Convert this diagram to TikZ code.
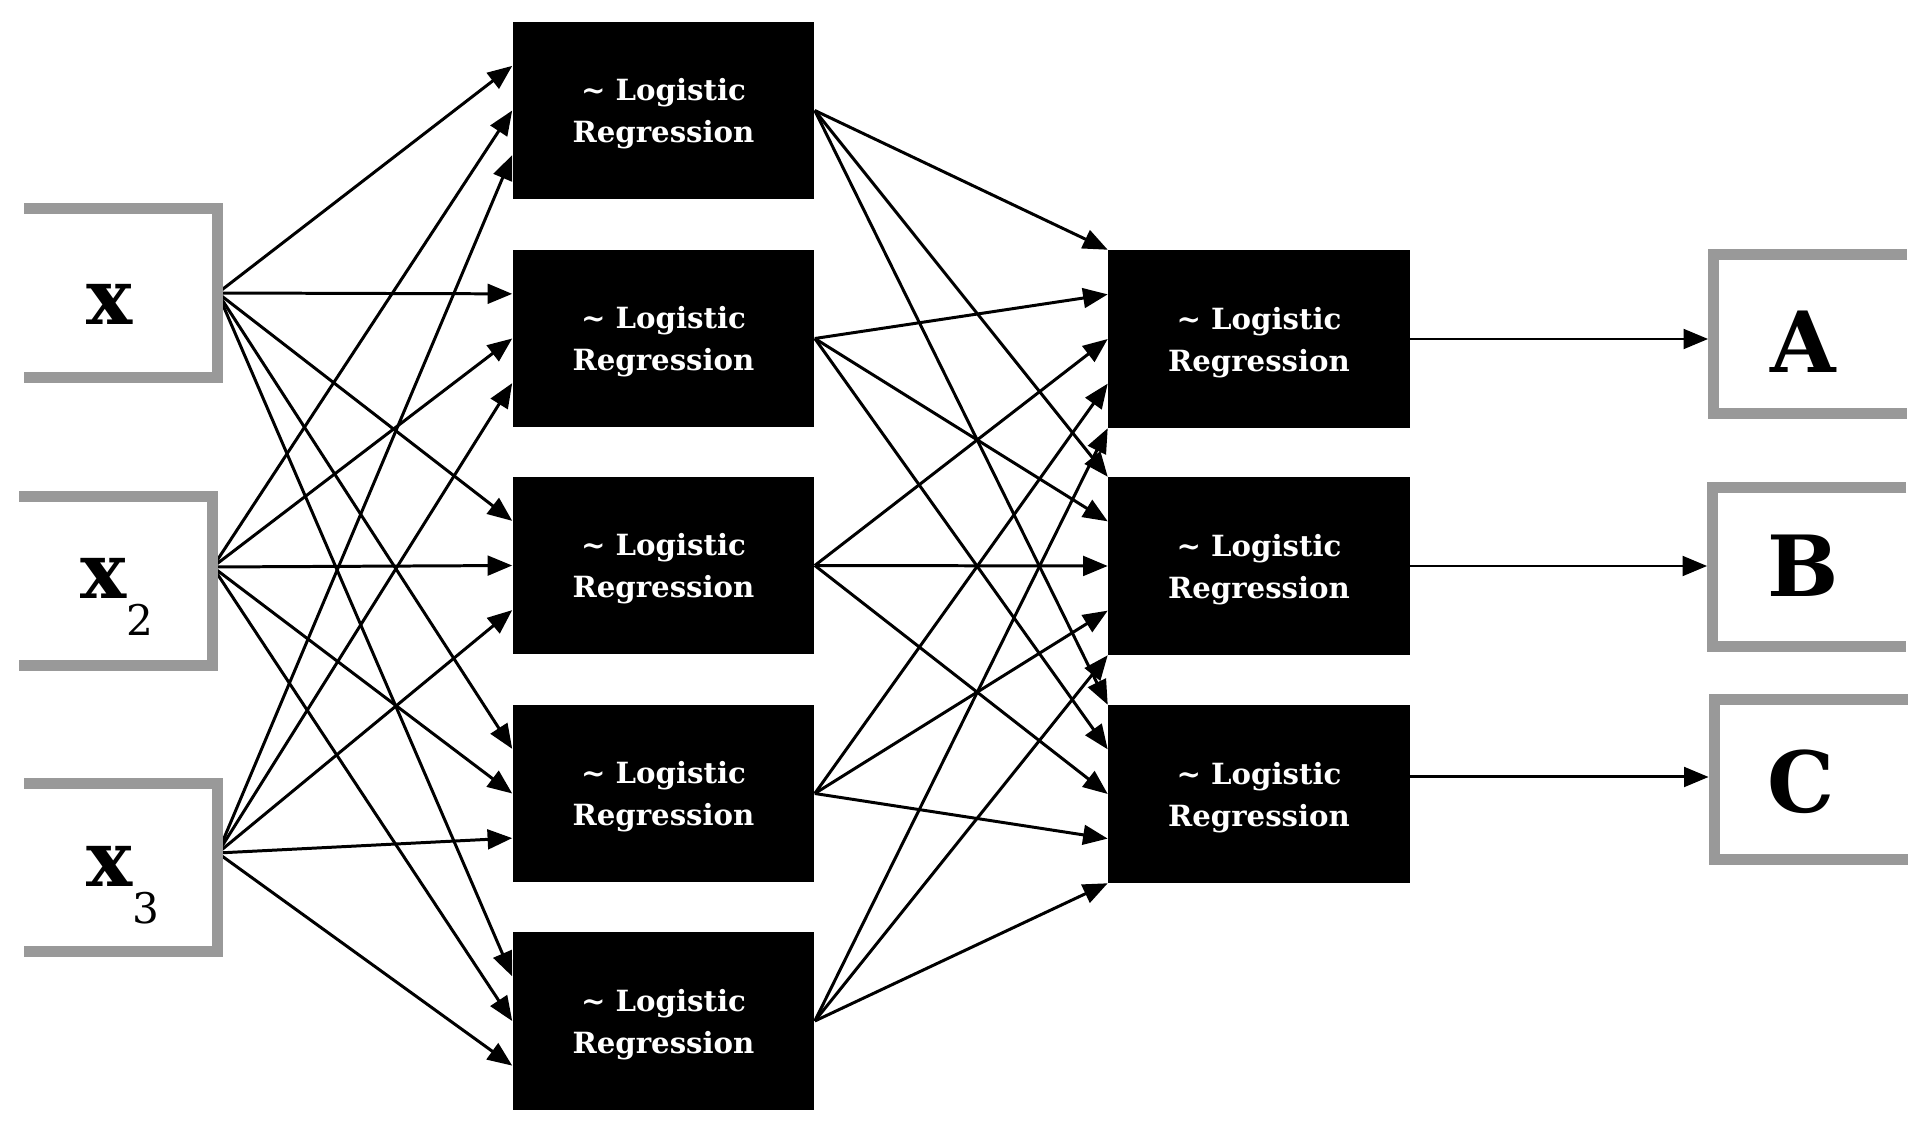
\documentclass[tikz,border=0pt]{standalone}
\usepackage{fontspec}
\setmainfont{DejaVu Serif}
\usepackage{tikz}
\usetikzlibrary{arrows.meta,calc}
\definecolor{framegray}{RGB}{153,153,153}

\begin{document}
\begin{tikzpicture}[x=0.01cm,y=-0.01cm,
    lrbox/.style={fill=black,text=white,minimum width=3.01cm,minimum height=1.77cm,
      inner sep=0pt,text depth=0pt,align=center,font=\fontsize{8.3}{11.9}\selectfont\bfseries},
    iobox/.style={minimum width=1.92cm,minimum height=1.67cm,inner sep=0pt},
    inlabel/.style={inner sep=0pt,font=\fontsize{22}{22}\selectfont},
    outlabel/.style={inner sep=0pt,font=\fontsize{24}{24}\selectfont\bfseries},
    wire/.style={line width=0.85pt,-{Triangle[length=7pt,width=5.6pt]}},
    openframe/.style={framegray,line width=3.1pt}]
    \useasboundingbox (0,0) rectangle (1928,1134);

    % Inputs
    \node[iobox] (in1) at (121,293) {};
    \node[iobox] (in2) at (116,581) {};
    \node[iobox] (in3) at (121,867.5) {};
    \node[inlabel] (x1) at (110,304) {\bfseries x};
    \node[inlabel] (x2) at (116.5,597) {{\bfseries x}\raisebox{-10.5pt}{\fontsize{12}{12}\selectfont 2}};
    \node[inlabel] (x3) at (123,885) {{\bfseries x}\raisebox{-10.5pt}{\fontsize{12}{12}\selectfont 3}};
    \coordinate (src1) at (in1.east);
    \coordinate (src2) at ([yshift=0.14cm]in2.east);
    \coordinate (src3) at ([yshift=0.145cm]in3.east);

    % Hidden layer
    \foreach \i/\y in {1/110.5,2/338.5,3/565.5,4/793.5,5/1021}
      \node[lrbox] (l1-\i) at (663.5,\y) {\textasciitilde{} Logistic\\Regression};

    % Output layer
    \foreach \k/\y in {1/339,2/566,3/794}
      \node[lrbox] (l2-\k) at (1259,\y) {\textasciitilde{} Logistic\\Regression};

    % Classes
    \node[iobox,minimum height=1.58cm] (out1) at (1810.5,334) {};
    \node[iobox,minimum height=1.58cm] (out2) at (1809.5,567) {};
    \node[iobox,minimum height=1.58cm] (out3) at (1811,779.5) {};
    \node[outlabel] (ca) at (1803,342) {A};
    \node[outlabel] (cb) at (1803,566) {B};
    \node[outlabel] (cc) at (1801,782) {C};

    % Wires
    \foreach \j in {1,2,3} \foreach \i in {1,...,5}
      \draw[wire] (src\j) -- ($(l1-\i.north west)!\j/4!(l1-\i.south west)$);
    \foreach \i in {1,...,5} \foreach \k in {1,2,3} {
      \pgfmathsetmacro\f{(\i-1)/4}
      \draw[wire] (l1-\i.east) -- ($(l2-\k.north west)!\f!(l2-\k.south west)$);
    }
    \foreach \k/\dy in {1/0,2/0,3/0.17} {
      \coordinate (o\k) at ([yshift=\dy cm]l2-\k.east);
      \draw[wire,shorten >=1.6pt] (o\k) -- (o\k -| out\k.west);
    }

    % Frames
    \foreach \j in {1,2,3}
      \draw[openframe] (in\j.north west) -- (in\j.north east) -- (in\j.south east) -- (in\j.south west);
    \foreach \k in {1,2,3}
      \draw[openframe] (out\k.north east) -- (out\k.north west) -- (out\k.south west) -- (out\k.south east);
  \end{tikzpicture}
\end{document}
